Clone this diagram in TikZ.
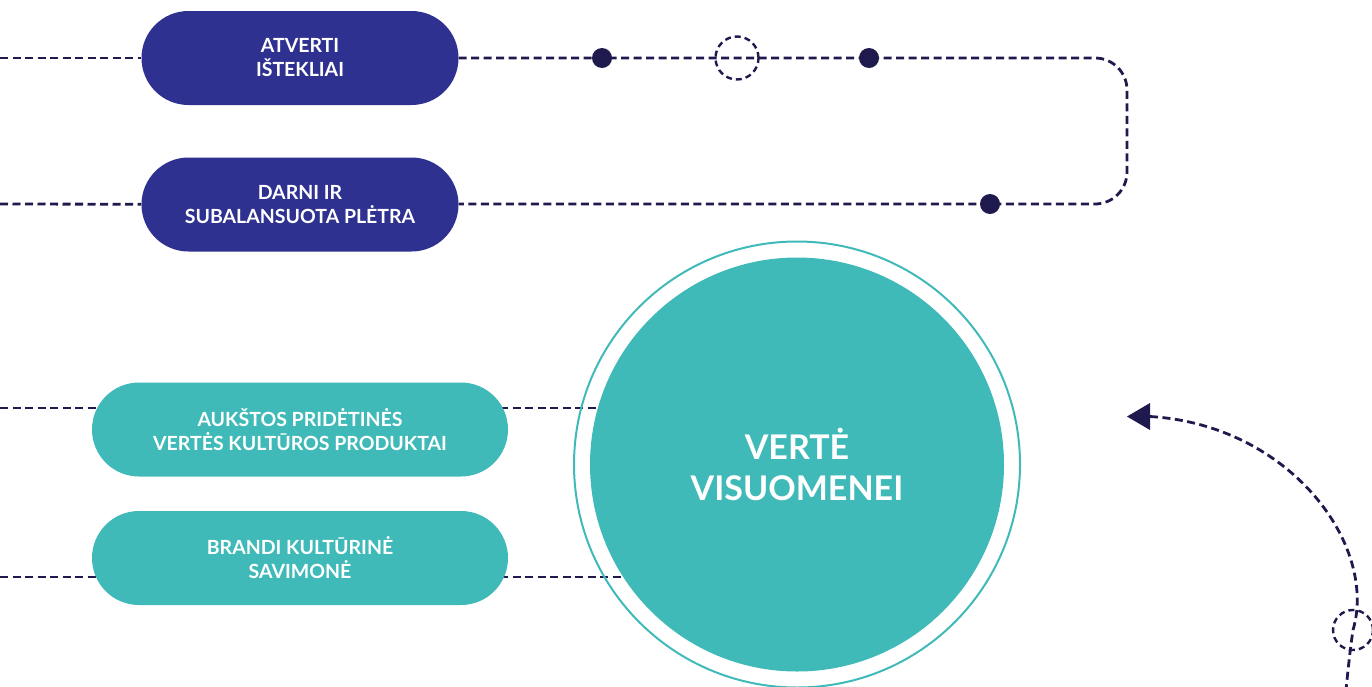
\documentclass[tikz,border=0pt]{standalone}
\usepackage{fontspec}
\setmainfont{Lato}
\usetikzlibrary{arrows.meta}
\definecolor{navy}{HTML}{2E3190}
\definecolor{ink}{HTML}{1E1A4D}
\definecolor{teal}{HTML}{40BAB9}
\pgfdeclarelayer{bg}
\pgfsetlayers{bg,main}
\tikzset{
  pill/.style={rectangle, rounded corners=47pt, minimum width=#1, minimum height=94pt,
    text=white, align=center, font=\fontsize{19.5}{24}\selectfont\bfseries, inner sep=0pt},
  bluepill/.style={pill=317pt, fill=navy},
  tealpill/.style={pill=416pt, fill=teal},
  link/.style={draw=ink, line width=2.8pt, dash pattern=on 8pt off 4.5pt},
  dotnode/.style={circle, fill=ink, minimum size=20pt, inner sep=0pt},
  ringnode/.style={circle, draw=ink, line width=2.4pt, dash pattern=on 6pt off 4pt, minimum size=43pt, inner sep=0pt},
}
\begin{document}
\begin{tikzpicture}[x=1pt, y=-1pt]
\useasboundingbox (0,0) rectangle (1372,686);
% nodes
\node[bluepill] (a) at (300,58) {ATVERTI\\IŠTEKLIAI};
\node[bluepill] (b) at (300,204.5) {DARNI IR\\SUBALANSUOTA PLĖTRA};
\node[tealpill] (c) at (300,429.5) {AUKŠTOS PRIDĖTINĖS\\VERTĖS KULTŪROS PRODUKTAI};
\node[tealpill] (d) at (300,558) {BRANDI KULTŪRINĖ\\SAVIMONĖ};
\node[circle, fill=teal, minimum size=414pt, inner sep=0pt, text=white, align=center,
  font=\fontsize{34}{41}\selectfont\bfseries] (v) at (797,464.5) {VERTĖ\\VISUOMENEI};
\draw[teal, line width=2pt] (v.center) circle (223);
% coordinates
\coordinate (la) at (0,58);
\coordinate (lb) at (0,204);
\coordinate (lc) at (0,408);
\coordinate (ld) at (0,577);
\coordinate (c1) at (1127,58);
\coordinate (c2) at (1127,204);
\coordinate (tip) at (1127,416.5);
\coordinate (base) at (1150,416.5);
\coordinate (bend) at (1353,630);
\coordinate (lend) at (1346,690);
% background connectors
\begin{pgfonlayer}{bg}
\draw[link] (la) -- (a);
\draw[link] (lb) -- (b);
\draw[link, rounded corners=32pt] (a.east) -- (c1) -- (c2) -- (b.east |- c2);
\draw[link] (lc) -- (lc -| v.center);
\draw[link] (ld) -- (ld -| v.center);
\end{pgfonlayer}
\node[dotnode] (d1) at (602,58) {};
\node[ringnode] (r1) at (737,58) {};
\node[dotnode] (d2) at (869,58) {};
\node[dotnode] (d3) at (990,204) {};
% right arc with arrow
\draw[link] (base) .. controls (1290,425) and (1378,545) .. (bend) .. controls (1350,650) and (1348,670) .. (lend);
\node[ringnode, minimum size=40pt] (r2) at (bend) {};
\fill[ink] (tip) -- (1150,403) -- (1150,430) -- cycle;
\end{tikzpicture}
\end{document}
